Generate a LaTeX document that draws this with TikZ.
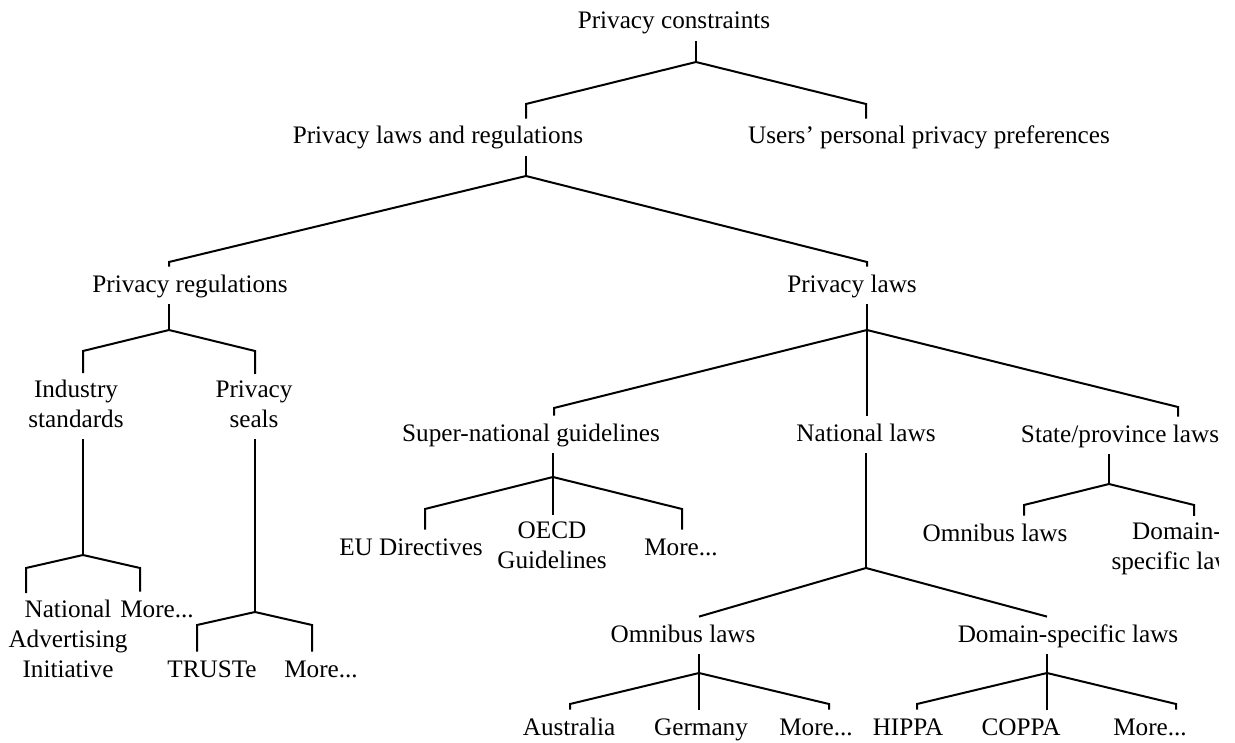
\documentclass[tikz,border=0pt]{standalone}
\usepackage{fontspec}
\setmainfont{Liberation Serif}
\usetikzlibrary{positioning,calc}

\tikzset{
  lbl/.style={anchor=base, align=center, inner sep=3pt, text height=0.95em, text depth=0.3em,
    font=\fontsize{12.6}{15}\selectfont},
  lbltwo/.style={anchor=base, align=center, inner sep=3pt, text depth=0.3em,
    font=\fontsize{12.6}{15}\selectfont},
  branch/.style={line width=1pt, line join=miter}
}

\begin{document}
\begin{tikzpicture}[x=0.5pt,y=-0.5pt]
  \useasboundingbox (0,0) rectangle (1235,743);
  \clip (0,0) rectangle (1218,743);

  % Top levels
  \node[lbl] (root) at (674,29) {Privacy constraints};
  \node[lbl] (plr) at (438,144) {Privacy laws and regulations};
  \node[lbl] (upp) at (929,144) {Users' personal privacy preferences};
  \node[lbl] (regs) at (190,292) {Privacy regulations};
  \node[lbl] (laws) at (852,292) {Privacy laws};

  % Regulations side (multi-line nodes sit on their last line)
  \node[lbltwo] (ind) at (76,427) {Industry\\standards};
  \node[lbltwo] (seals) at (254,427) {Privacy\\seals};
  \node[lbltwo] (nai) at (68,677) {National\\Advertising\\Initiative};
  \node[lbl] (moreind) at (157,617) {More...};
  \node[lbl] (truste) at (212,677) {TRUSTe};
  \node[lbl] (moreseal) at (321,677) {More...};

  % Laws side
  \node[lbl] (super) at (531,441) {Super-national guidelines};
  \node[lbl] (nat) at (866,441) {National laws};
  \node[lbl] (state) at (1120,442) {State/province laws};
  \node[lbl] (eu) at (411,555) {EU Directives};
  \node[lbltwo] (oecd) at (552,568) {OECD\\Guidelines};
  \node[lbl] (moresup) at (681,555) {More...};
  \node[lbl] (omni) at (683,642) {Omnibus laws};
  \node[lbl] (dom) at (1068,642) {Domain-specific laws};
  \node[lbl] (stomni) at (995,541) {Omnibus laws};
  \node[lbltwo] (stdom) at (1177,569) {Domain-\\specific laws};
  \node[lbl] (aus) at (569,735) {Australia};
  \node[lbl] (ger) at (701,735) {Germany};
  \node[lbl] (moreomni) at (816,735) {More...};
  \node[lbl] (hippa) at (908,735) {HIPPA};
  \node[lbl] (coppa) at (1021,735) {COPPA};
  \node[lbl] (moredom) at (1150,735) {More...};

  % Junctions
  \coordinate (j-root) at (696,62);
  \coordinate (j-plr) at (526,176);
  \coordinate (j-regs) at (169,330);
  \coordinate (j-laws) at (867,330);
  \coordinate (j-ind) at (83,555);
  \coordinate (j-seals) at (255,612);
  \coordinate (j-super) at (553,477);
  \coordinate (j-nat) at (866,568);
  \coordinate (j-state) at (1109,484);
  \coordinate (j-omni) at (699,673);
  \coordinate (j-dom) at (1047,673);

  % Tick tops
  \coordinate (t-plr) at (526,104);
  \coordinate (t-upp) at (866,104);
  \coordinate (t-regs) at (169,262);
  \coordinate (t-laws) at (867,262);
  \coordinate (t-ind) at (83,351);
  \coordinate (t-seals) at (255,351);
  \coordinate (t-nai) at (26,568);
  \coordinate (t-moreind) at (140,568);
  \coordinate (t-truste) at (197,625);
  \coordinate (t-moreseal) at (312,625);
  \coordinate (t-super) at (554,408);
  \coordinate (t-state) at (1178,407);
  \coordinate (t-eu) at (425,509);
  \coordinate (t-moresup) at (682,509);
  \coordinate (t-stomni) at (1024,505);
  \coordinate (t-stdom) at (1194,505);
  \coordinate (t-aus) at (570,704);
  \coordinate (t-moreomni) at (829,704);
  \coordinate (t-hippa) at (917,704);
  \coordinate (t-moredom) at (1176,704);

  % Stems
  \foreach \p/\j in {root/j-root, plr/j-plr, regs/j-regs, laws/j-laws, ind/j-ind,
                     seals/j-seals, super/j-super, nat/j-nat, state/j-state,
                     omni/j-omni, dom/j-dom} {
    \draw[branch] (\p.south -| \j) -- (\j);
  }

  % Slanted branches with ticks
  \foreach \j/\c in {j-root/plr, j-root/upp, j-plr/regs, j-plr/laws, j-regs/ind,
                     j-regs/seals, j-ind/nai, j-ind/moreind, j-seals/truste,
                     j-seals/moreseal, j-laws/super, j-laws/state, j-super/eu,
                     j-super/moresup, j-state/stomni, j-state/stdom, j-omni/aus,
                     j-omni/moreomni, j-dom/hippa, j-dom/moredom} {
    \draw[branch] (\j) -- (t-\c) -- (t-\c |- \c.north);
  }

  % Straight middles
  \draw[branch] (j-laws) -- (j-laws |- nat.north);
  \draw[branch] (j-super) -- (j-super |- oecd.north);
  \draw[branch] (j-omni) -- (j-omni |- ger.north);
  \draw[branch] (j-dom) -- (j-dom |- coppa.north);

  % National laws split without ticks
  \draw[branch] (j-nat) -- (j-omni |- omni.north);
  \draw[branch] (j-nat) -- (j-dom |- dom.north);
\end{tikzpicture}
\end{document}
